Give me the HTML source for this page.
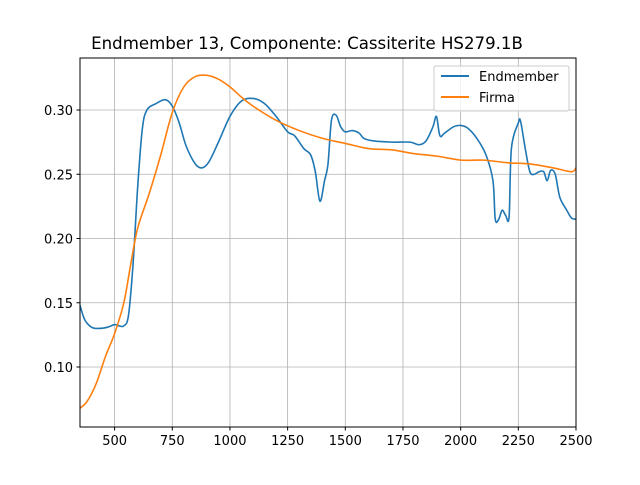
<!DOCTYPE html>
<html><head><meta charset="utf-8"><style>
body{margin:0;background:#fff}
svg{font-family:"DejaVu Sans","Liberation Sans",sans-serif}
</style></head><body>
<svg id="chart" width="640" height="480">
<text x="307" y="49" font-size="16.6" text-anchor="middle">Endmember 13, Componente: Cassiterite HS279.1B</text>
<g id="grid"></g><g id="series"></g><g id="ticks"></g>
<rect x="80" y="58" width="496" height="369" fill="none" stroke="#000" stroke-width="1"/>
<g>
<rect x="434" y="66" width="135" height="45" rx="2" fill="#fff" fill-opacity="0.8" stroke="#ccc"/>
<line x1="441" y1="76" x2="469" y2="76" stroke="#1f77b4" stroke-width="2"/>
<text x="479" y="81" font-size="13">Endmember</text>
<line x1="441" y1="97" x2="469" y2="97" stroke="#ff7f0e" stroke-width="2"/>
<text x="479" y="102" font-size="13">Firma</text>
</g>
</svg>
<script>
const xTicks=[500,750,1000,1250,1500,1750,2000,2250,2500];
const yTicks=[0.10,0.15,0.20,0.25,0.30];
const endX=[350,370,400,430,470,500,520,540,560,580,600,620,640,680,720,750,780,810,850,880,910,950,1000,1050,1100,1150,1200,1250,1280,1320,1350,1370,1390,1410,1425,1440,1460,1480,1500,1530,1560,1580,1620,1700,1780,1820,1850,1880,1895,1910,1930,1970,2000,2030,2070,2110,2140,2150,2165,2180,2195,2210,2220,2250,2260,2280,2300,2320,2340,2360,2375,2390,2410,2430,2460,2480,2500];
const endY=[0.148,0.137,0.131,0.130,0.131,0.133,0.132,0.132,0.140,0.180,0.240,0.285,0.300,0.305,0.308,0.303,0.290,0.272,0.258,0.255,0.260,0.275,0.295,0.307,0.309,0.305,0.295,0.283,0.280,0.270,0.265,0.252,0.229,0.245,0.258,0.292,0.296,0.287,0.283,0.284,0.282,0.278,0.276,0.275,0.275,0.273,0.276,0.287,0.295,0.280,0.282,0.287,0.288,0.286,0.278,0.265,0.245,0.215,0.215,0.222,0.218,0.217,0.270,0.290,0.291,0.270,0.252,0.250,0.252,0.252,0.245,0.253,0.250,0.232,0.222,0.216,0.215];
const firX=[350,380,420,460,500,540,570,600,650,700,750,800,850,900,950,1000,1050,1100,1200,1300,1400,1500,1600,1700,1800,1900,2000,2100,2200,2300,2400,2480,2500];
const firY=[0.068,0.073,0.087,0.108,0.126,0.150,0.180,0.208,0.235,0.265,0.298,0.318,0.326,0.327,0.324,0.318,0.310,0.303,0.292,0.284,0.278,0.274,0.270,0.269,0.266,0.264,0.261,0.261,0.259,0.258,0.255,0.252,0.255];
const X=v=>80+(v-350)*(496/2150);
const Y=v=>367-(v-0.10)*(257/0.20);
const NS="http://www.w3.org/2000/svg";
function mk(t,a,p){const e=document.createElementNS(NS,t);for(const k in a)e.setAttribute(k,a[k]);p.appendChild(e);return e;}
const g=document.getElementById('grid'),tk=document.getElementById('ticks'),s=document.getElementById('series');
xTicks.forEach(v=>{const x=X(v);
const l=mk('line',{x1:x,x2:x,y1:58,y2:427,stroke:'#b0b0b0','stroke-width':0.8},g);


mk('line',{x1:x,x2:x,y1:427,y2:430.5,stroke:'#000'},tk);
const t=mk('text',{x:x,y:445,'font-size':13,'text-anchor':'middle'},tk);t.textContent=v;

});
yTicks.forEach(v=>{const y=Y(v);
const l=mk('line',{x1:80,x2:576,y1:y,y2:y,stroke:'#b0b0b0','stroke-width':0.8},g);


mk('line',{x1:76.5,x2:80,y1:y,y2:y,stroke:'#000'},tk);
const t=mk('text',{x:73,y:y+5,'font-size':13,'text-anchor':'end'},tk);t.textContent=v.toFixed(2);

});
function line(xs,ys,c,n){
const P=xs.map((x,i)=>[X(x),Y(ys[i])]);
let d='M'+P[0][0]+','+P[0][1];
for(let i=0;i<P.length-1;i++){const p0=P[Math.max(0,i-1)],p1=P[i],p2=P[i+1],p3=P[Math.min(P.length-1,i+2)];
const c1=[p1[0]+(p2[0]-p0[0])/6,p1[1]+(p2[1]-p0[1])/6],c2=[p2[0]-(p3[0]-p1[0])/6,p2[1]-(p3[1]-p1[1])/6];
d+=' C'+c1+' '+c2+' '+p2;}
const p=mk('path',{d:d,fill:'none',stroke:c,'stroke-width':1.6,'stroke-linejoin':'round'},s);

}
line(endX,endY,'#1f77b4','endmember-line');
line(firX,firY,'#ff7f0e','firma-line');
</script>
</body></html>
